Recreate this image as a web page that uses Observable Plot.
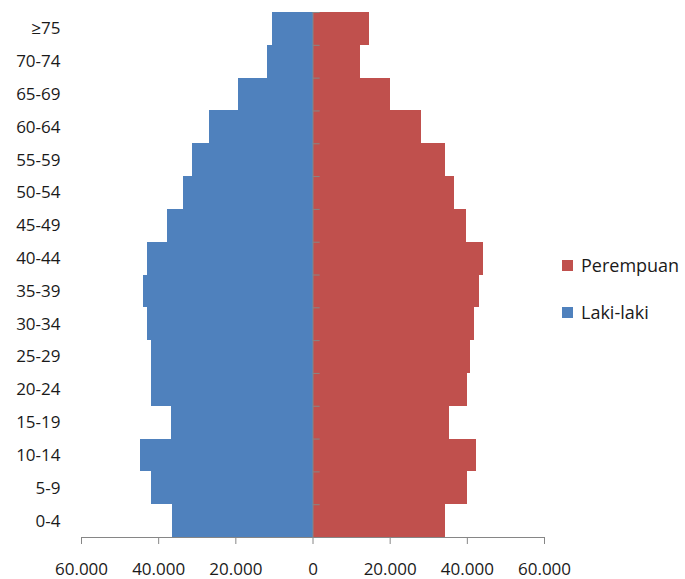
<!DOCTYPE html>
<html>
<head>
<meta charset="utf-8">
<script src="https://cdn.jsdelivr.net/npm/d3@7"></script>
<script src="https://cdn.jsdelivr.net/npm/@observablehq/plot@0.6"></script>
<style>
  body { margin: 0; background: #fff; font-family: "Open Sans", sans-serif; }
  #wrap { position: relative; width: 685px; height: 579px; overflow: hidden; }
  #legend { position: absolute; left: 562px; top: 253px; font-size: 18px; color: #1a1a1a; white-space: nowrap; }
  .item { display: flex; align-items: center; height: 24px; margin-bottom: 23px; }
  .sw { width: 11px; height: 11px; margin-right: 8px; flex: none; }
</style>
</head>
<body>
<div id="wrap"></div>
<script>
const ageGroups = ["0-4","5-9","10-14","15-19","20-24","25-29","30-34","35-39","40-44","45-49","50-54","55-59","60-64","65-69","70-74","≥75"];
const lakiLaki  = [36400, 41800, 44600, 36700, 41800, 41800, 42900, 43900, 42900, 37800, 33600, 31200, 26900, 19400, 11900, 10500];
const perempuan = [34300, 40100, 42400, 35300, 40100, 40700, 41900, 43200, 44200, 39700, 36700, 34300, 28200, 20000, 12200, 14600];
const xTicks = [-60000, -40000, -20000, 0, 20000, 40000, 60000];
const seriesNames = ["Perempuan", "Laki-laki"];
const seriesColors = ["#C0504D", "#4F81BD"];

const rows = ageGroups.flatMap((a, i) => [
  {age: a, sex: "Laki-laki", value: -lakiLaki[i]},
  {age: a, sex: "Perempuan", value: perempuan[i]}
]);

const fmt = d => d3.format(",")(Math.abs(d)).replace(/,/g, ".");
const bandPx = (537 - 12) / ageGroups.length;

const chart = Plot.plot({
  width: 685,
  height: 579,
  marginLeft: 81,
  marginRight: 141,
  marginTop: 12,
  marginBottom: 42,
  style: {fontFamily: "Open Sans, sans-serif", fontSize: "17px", color: "#1a1a1a", background: "#fff"},
  x: {domain: [-60000, 60000]},
  y: {domain: ageGroups.slice().reverse(), padding: 0, round: false},
  color: {domain: seriesNames, range: seriesColors},
  marks: [
    Plot.barX(rows, {x: "value", y: "age", fill: "sex", inset: 0, shapeRendering: "crispEdges"}),
    Plot.ruleX([0], {stroke: "#868686", strokeWidth: 1}),
    Plot.ruleY(ageGroups, {y: d => d, x1: 0, x2: 1850, dy: bandPx / 2, stroke: "#868686"}),
    Plot.ruleY([ageGroups[ageGroups.length - 1]], {x1: 0, x2: 1850, dy: -bandPx / 2, stroke: "#868686"}),
    Plot.frame({anchor: "bottom", stroke: "#868686"}),
    Plot.axisX({ticks: xTicks, tickFormat: fmt, tickSize: 7, tickPadding: 18, stroke: "#868686", fill: "#1a1a1a", label: null}),
    Plot.axisY({anchor: "left", tickSize: 0, tickPadding: 21, label: null, fill: "#1a1a1a"})
  ]
});

const wrap = document.getElementById("wrap");
wrap.appendChild(chart);
const legend = document.createElement("div");
legend.id = "legend";
seriesNames.forEach((n, i) => {
  const it = document.createElement("div");
  it.className = "item";
  it.innerHTML = `<div class="sw" style="background:${seriesColors[i]}"></div><span>${n}</span>`;
  legend.appendChild(it);
});
wrap.appendChild(legend);
</script>
</body>
</html>
